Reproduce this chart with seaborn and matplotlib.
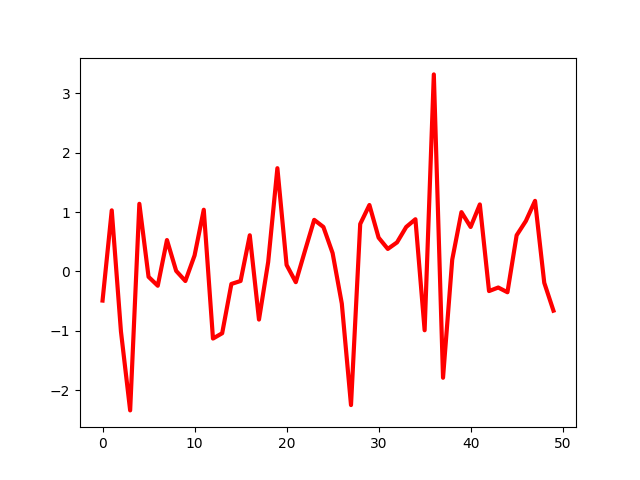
import matplotlib
matplotlib.use("Agg")
import matplotlib.pyplot as plt
import seaborn as sns
import numpy as np

x_vals = list(range(50))
y_vals = [-0.49, 1.03, -1.01, -2.34, 1.14, -0.09, -0.24, 0.53, 0.01, -0.16,
          0.27, 1.04, -1.13, -1.04, -0.21, -0.16, 0.61, -0.81, 0.16, 1.74,
          0.11, -0.18, 0.35, 0.87, 0.75, 0.31, -0.54, -2.25, 0.80, 1.12,
          0.57, 0.38, 0.49, 0.75, 0.88, -0.99, 3.32, -1.79, 0.20, 1.00,
          0.75, 1.13, -0.33, -0.27, -0.35, 0.61, 0.85, 1.19, -0.19, -0.66]

fig, ax = plt.subplots(figsize=(6.4, 4.8), dpi=100)
sns.lineplot(x=x_vals, y=y_vals, ax=ax, color="red", linewidth=3)
fig.savefig("out.png", dpi=100)
